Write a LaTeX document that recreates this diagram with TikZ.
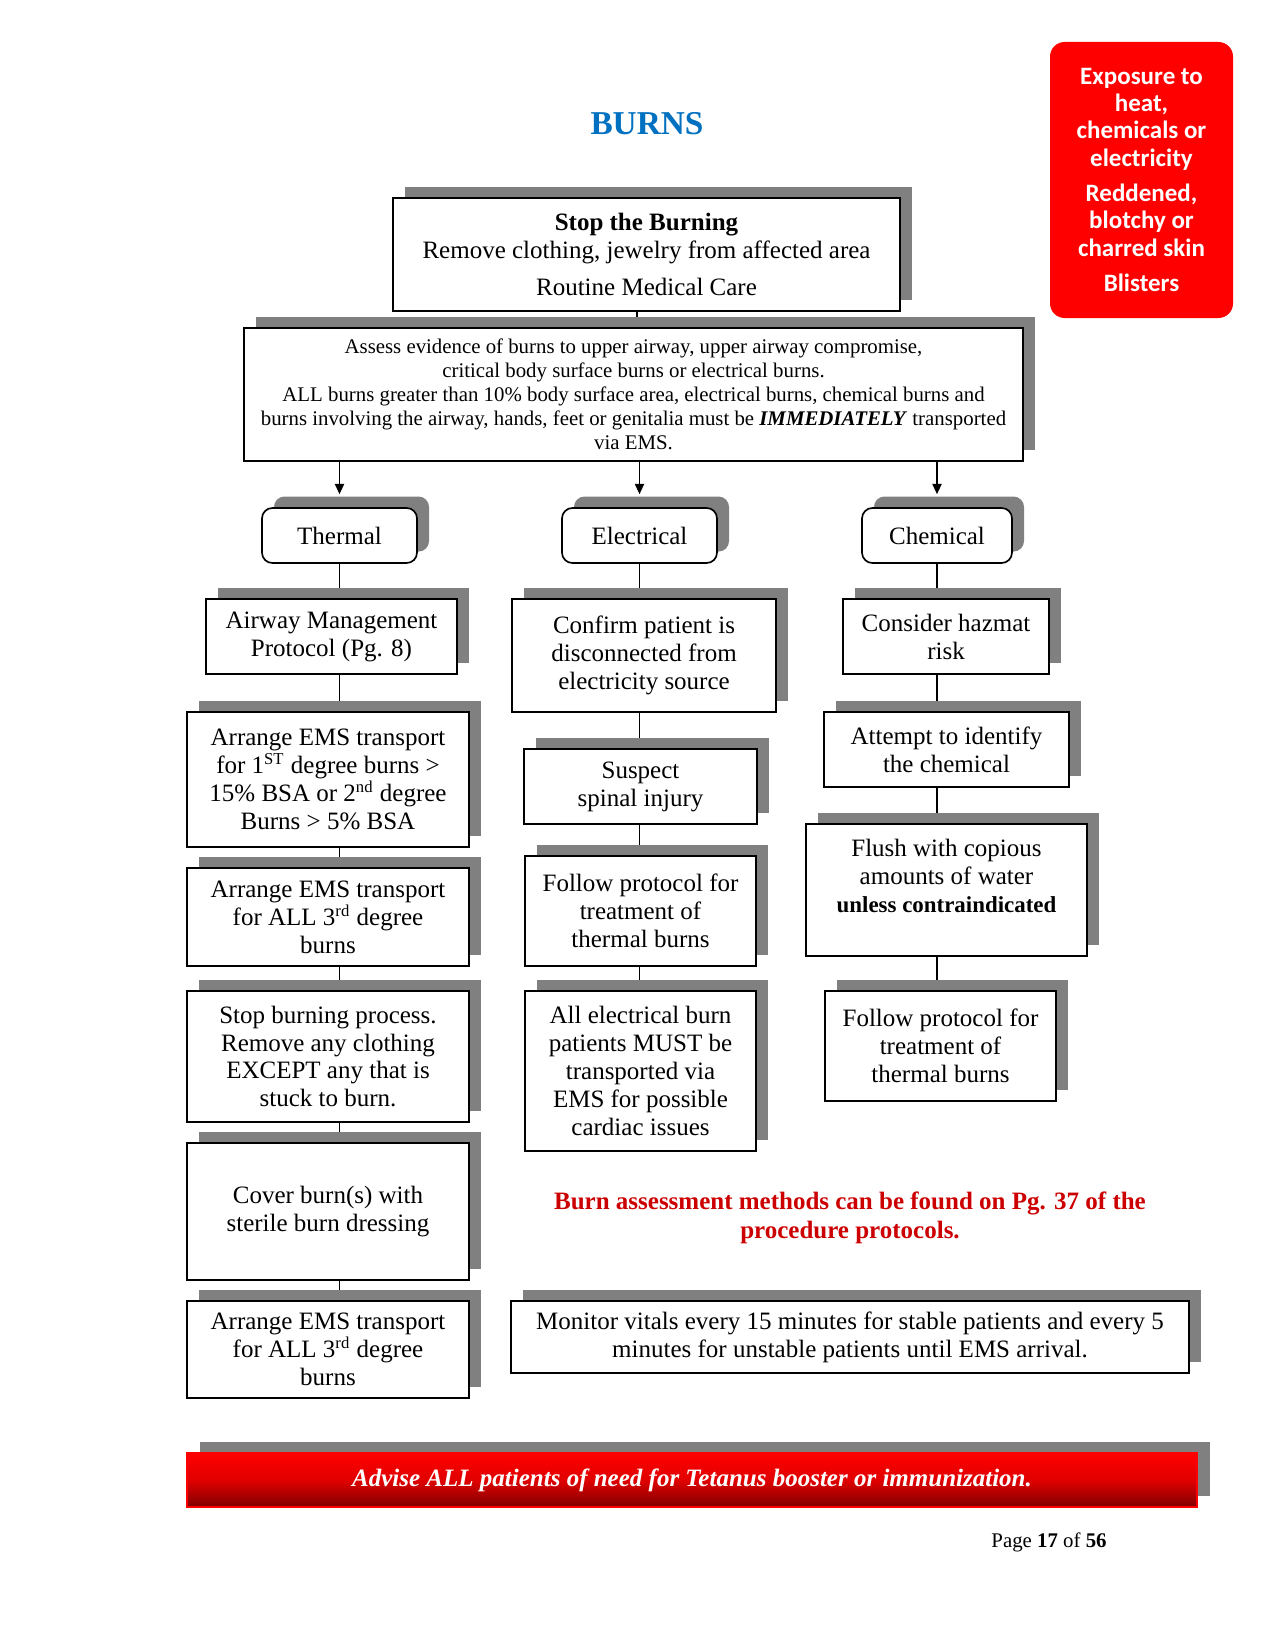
\documentclass[tikz,border=0pt]{standalone}
\usepackage{fontspec}
\setmainfont{Liberation Serif}
\newfontfamily\calib{Carlito}
\usetikzlibrary{shadows,arrows.meta,calc}
\definecolor{shadowgray}{HTML}{808080}
\definecolor{titleblue}{HTML}{0070C0}
\definecolor{brightred}{HTML}{FF0000}
\definecolor{darkred}{HTML}{800000}
\definecolor{notered}{HTML}{CC0000}
\pgfdeclarelayer{bg}
\pgfsetlayers{bg,main}
\begin{document}
\begin{tikzpicture}[x=0.48pt,y=-0.48pt,
  sz/.style 2 args={minimum width={#1*0.48pt},minimum height={#2*0.48pt}},
  card/.style={draw=black,line width=0.8pt,fill=white,inner sep=0pt,align=center,
     font=\fontsize{12}{13.4}\selectfont,
     general shadow={fill=shadowgray,shadow xshift=5.76pt,shadow yshift=5.5pt}},
  rcard/.style={card,rounded corners=5pt},
  link/.style={line width=0.6pt},
  arr/.style={line width=0.6pt,-{Triangle[length=5pt,width=4.5pt]}},
]
\useasboundingbox (0,0) rectangle (1275,1651);
\begin{pgfonlayer}{bg}
\fill[white] (0,0) rectangle (1275,1651);
\end{pgfonlayer}

\node[font=\fontsize{16}{19}\selectfont\bfseries, text=titleblue] (title) at (647,124) {BURNS};

\node[fill=brightred, rounded corners=7pt, sz={183}{276}, text=white, align=center, inner sep=0pt,
  font=\calib\bfseries\fontsize{12}{13.1}\selectfont] (signs) at (1141.5,180)
  {Exposure to\\heat,\\chemicals or\\electricity\\[4pt]Reddened,\\blotchy or\\charred skin\\[4pt]Blisters};

\node[card,sz={507}{113}] (stop) at (646.5,254.5)
  {\textbf{Stop the Burning}\\Remove clothing, jewelry from affected area\\[4.8pt]Routine Medical Care};

\node[card,sz={779}{133},font=\fontsize{10}{11.5}\selectfont] (assess) at (633.5,394.5)
  {Assess evidence of burns to upper airway, upper airway compromise,\\critical body surface burns or electrical burns.\\ALL burns greater than 10\% body surface area, electrical burns, chemical burns and\\burns involving the airway, hands, feet or genitalia must be \textbf{\textit{IMMEDIATELY}} transported\\via EMS.};

\node[rcard,sz={155}{55}] (thermal) at (339.5,535.5) {Thermal};
\node[rcard,sz={155}{55}] (electrical) at (639.5,535.5) {Electrical};
\node[rcard,sz={150}{55}] (chemical) at (937,535.5) {Chemical};

\node[card,sz={251}{75}] (airway) at (331.5,636.5) {Airway Management\\Protocol (Pg. 8)};
\node[card,sz={282}{135}] (arr1) at (328,779.5) {Arrange EMS transport\\for 1\textsuperscript{ST} degree burns >\\15\% BSA or 2\textsuperscript{nd} degree\\Burns > 5\% BSA};
\node[card,sz={282}{98}] (arr3a) at (328,917) {Arrange EMS transport\\for ALL 3\textsuperscript{rd} degree\\burns};
\node[card,sz={282}{131}] (stopb) at (328,1056.5) {Stop burning process.\\Remove any clothing\\EXCEPT any that is\\stuck to burn.};
\node[card,sz={282}{137}] (cover) at (328,1211.5) {Cover burn(s) with\\sterile burn dressing};
\node[card,sz={282}{97}] (arr3b) at (328,1349.5) {Arrange EMS transport\\for ALL 3\textsuperscript{rd} degree\\burns};

\node[card,sz={264}{113}] (confirm) at (644,655.5) {Confirm patient is\\disconnected from\\electricity source};
\node[card,sz={233}{75}] (suspect) at (640.5,786.5) {Suspect\\spinal injury};
\node[card,sz={231}{110}] (follow1) at (640.5,911) {Follow protocol for\\treatment of\\thermal burns};
\node[card,sz={231}{160}] (allel) at (640.5,1071) {All electrical burn\\patients MUST be\\transported via\\EMS for possible\\cardiac issues};

\node[card,sz={206}{75}] (consider) at (946,636.5) {Consider hazmat\\risk};
\node[card,sz={245}{75}] (attempt) at (946.5,749.5) {Attempt to identify\\the chemical};
\node[card,sz={281}{132}] (flush) at (946.5,890) {Flush with copious\\amounts of water\\{\fontsize{11}{13.4}\selectfont\bfseries unless contraindicated}\\\mbox{}};
\node[card,sz={231}{110}] (follow2) at (940.5,1046) {Follow protocol for\\treatment of\\thermal burns};

\node[font=\fontsize{12}{13.9}\selectfont\bfseries, text=notered, align=center] (note) at (850,1218)
  {Burn assessment methods can be found on Pg. 37 of the\\procedure protocols.};

\node[card,sz={678}{72}] (monitor) at (850,1337) {Monitor vitals every 15 minutes for stable patients and every 5\\minutes for unstable patients until EMS arrival.};

\node[draw=brightred, line width=0.5pt, top color=brightred, bottom color=darkred, middle color=brightred!88!black,
  sz={1010}{54}, inner sep=0pt, text=white, font=\fontsize{12}{14}\selectfont\bfseries\itshape,
  general shadow={fill=shadowgray,shadow xshift=6pt,shadow yshift=5.3pt}] (banner) at (692,1480)
  {Advise ALL patients of need for Tetanus booster or immunization.};

\node[font=\fontsize{10}{12}\selectfont] (page) at (1049,1542) {Page \textbf{17} of \textbf{56}};

\begin{pgfonlayer}{bg}
\draw[link] ($(stop.south)+(-9.5,0)$) -- ($(stop.south |- assess.north)+(-9.5,0)$);
\draw[link] (thermal.south) -- (thermal.south |- airway.north);
\foreach \a/\b in {airway/arr1, arr1/arr3a, arr3a/stopb, stopb/cover, cover/arr3b}
  \draw[link] (thermal.south |- \a.south) -- (thermal.south |- \b.north);
\draw[link] (electrical.south) -- (electrical.south |- confirm.north);
\foreach \a/\b in {confirm/suspect, suspect/follow1, follow1/allel}
  \draw[link] (electrical.south |- \a.south) -- (electrical.south |- \b.north);
\draw[link] (chemical.south) -- (chemical.south |- consider.north);
\foreach \a/\b in {consider/attempt, attempt/flush, flush/follow2}
  \draw[link] (chemical.south |- \a.south) -- (chemical.south |- \b.north);
\end{pgfonlayer}

\foreach \c in {thermal,electrical,chemical}
  \draw[arr] (assess.south -| \c.north) -- ($(\c.north)+(0,-13)$);
\end{tikzpicture}
\end{document}
